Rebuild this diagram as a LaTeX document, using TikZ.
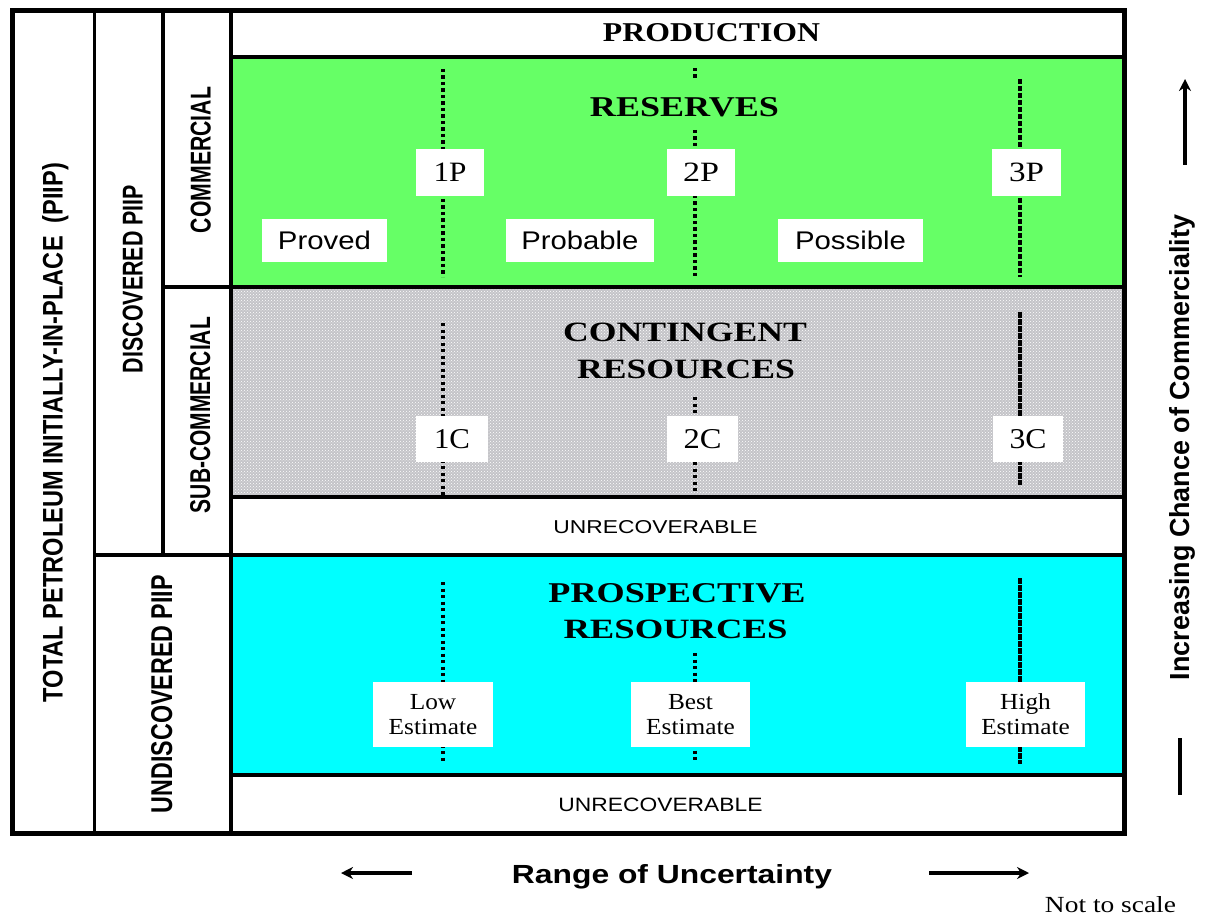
\documentclass[tikz,border=0pt]{standalone}
\usepackage{fontspec}
\setmainfont{Liberation Serif}
\setsansfont{Liberation Sans}
\usepackage{graphicx}
\usetikzlibrary{patterns,arrows.meta}
\definecolor{resgreen}{RGB}{102,255,102}
\definecolor{prospcyan}{RGB}{0,255,255}
\definecolor{contgray}{RGB}{196,196,200}
\newcommand\fitt[3]{\resizebox{#1pt}{#2pt}{#3}}
\begin{document}
\begin{tikzpicture}[x=1pt,y=-1pt,
  frame/.style={line width=5pt},
  sep/.style={line width=3.5pt},
  dotline/.style={line width=3.6pt, dash pattern=on 3.3pt off 3.2pt},
  dashline/.style={line width=3.6pt, dash pattern=on 5.5pt off 1.5pt},
  whitebox/.style={fill=white, inner sep=0pt},
  txt/.style={inner sep=0pt, anchor=base},
  vtxt/.style={inner sep=0pt, anchor=base, rotate=90, font=\sffamily\bfseries},
  arr/.style={line width=4pt, -{Stealth[length=12pt,width=12pt]}}
]
\useasboundingbox (0,0) rectangle (1207,917);
\fill[white] (0,0) rectangle (1207,917);

% coloured bands
\fill[resgreen] (231,57) rectangle (1124,287);
\fill[contgray] (231,287) rectangle (1124,497);
\fill[pattern=crosshatch dots, pattern color=white] (231,287) rectangle (1124,497);
\fill[prospcyan] (231,555) rectangle (1124,775);

% dotted lines
\draw[dotline] (443,69) -- (443,277);
\draw[dotline] (443,323) -- (443,495);
\draw[dotline] (443,582) -- (443,763);
\draw[dotline] (695,68) -- (695,78);
\draw[dotline] (695,130) -- (695,277);
\draw[dotline] (695,397) -- (695,492);
\draw[dotline] (695,653) -- (695,763);
\draw[dashline] (1020,79) -- (1020,277);
\draw[dashline] (1020,312) -- (1020,485);
\draw[dashline] (1020,578) -- (1020,764);

% grid lines
\draw[sep] (94.5,11) -- (94.5,833.5);
\draw[sep] (163,11) -- (163,555);
\draw[sep] (231,11) -- (231,833.5);
\draw[sep] (231,57) -- (1124,57);
\draw[sep] (163,287) -- (1124,287);
\draw[sep] (231,497) -- (1124,497);
\draw[sep] (94.5,555) -- (1124,555);
\draw[sep] (231,775) -- (1124,775);
\draw[frame] (12.5,11) rectangle (1124,833.5);

% band titles
\node[txt] (prod) at (711.5,41.5) {\fitt{217}{18}{\bfseries PRODUCTION}};
\node[txt] (res) at (684.5,116.5) {\fitt{189}{19}{\bfseries RESERVES}};
\node[txt] (cont1) at (685,341.5) {\fitt{244}{18.5}{\bfseries CONTINGENT}};
\node[txt] (cont2) at (686,378.5) {\fitt{218}{18.5}{\bfseries RESOURCES}};
\node[txt] (pros1) at (677,602.5) {\fitt{257}{19}{\bfseries PROSPECTIVE}};
\node[txt] (pros2) at (675.5,638.5) {\fitt{224}{18.5}{\bfseries RESOURCES}};
\node[txt] (unrec1) at (655.5,533.5) {\fitt{204}{13}{\sffamily UNRECOVERABLE}};
\node[txt] (unrec2) at (660.5,811.5) {\fitt{204}{13.5}{\sffamily UNRECOVERABLE}};

% label boxes
\node[whitebox, minimum width=68pt, minimum height=47pt] (p1) at (450,172.5) {\fitt{33}{18.5}{1P}};
\node[whitebox, minimum width=68pt, minimum height=47pt] (p2) at (701,172.5) {\fitt{36}{18.5}{2P}};
\node[whitebox, minimum width=69pt, minimum height=47pt] (p3) at (1026.5,172.5) {\fitt{35}{18.5}{3P}};
\node[whitebox, minimum width=125pt, minimum height=43pt] (proved) at (324.5,240.5) {\fitt{93}{18.5}{\sffamily Proved}};
\node[whitebox, minimum width=148pt, minimum height=43pt] (probable) at (580,240.5) {\fitt{117}{18.5}{\sffamily Probable}};
\node[whitebox, minimum width=145pt, minimum height=43pt] (possible) at (850.5,240.5) {\fitt{111}{18.5}{\sffamily Possible}};
\node[whitebox, minimum width=72pt, minimum height=46pt] (c1) at (452,439) {\fitt{36}{19}{1C}};
\node[whitebox, minimum width=71pt, minimum height=46pt] (c2) at (702.5,439) {\fitt{38}{19}{2C}};
\node[whitebox, minimum width=70pt, minimum height=46pt] (c3) at (1028,439) {\fitt{37}{19}{3C}};
\node[whitebox, minimum width=120pt, minimum height=65pt, align=center, font=\fontsize{23}{25}\selectfont] (low) at (433,714.5) {\scalebox{1.1}[1]{Low}\\\scalebox{1.1}[1]{Estimate}};
\node[whitebox, minimum width=119pt, minimum height=65pt, align=center, font=\fontsize{23}{25}\selectfont] (best) at (690.5,714.5) {\scalebox{1.1}[1]{Best}\\\scalebox{1.1}[1]{Estimate}};
\node[whitebox, minimum width=119pt, minimum height=65pt, align=center, font=\fontsize{23}{25}\selectfont] (high) at (1025.5,714.5) {\scalebox{1.1}[1]{High}\\\scalebox{1.1}[1]{Estimate}};

% vertical side labels
\node[vtxt] (total) at (62.5,432.5) {\fitt{539}{20.5}{TOTAL PETROLEUM INITIALLY-IN-PLACE\ \ (PIIP)}};
\node[vtxt] (disc) at (142.5,279) {\fitt{188}{20}{DISCOVERED PIIP}};
\node[vtxt] (comm) at (210.5,160) {\fitt{146}{20}{COMMERCIAL}};
\node[vtxt] (subcomm) at (210,415) {\fitt{196}{20}{SUB-COMMERCIAL}};
\node[vtxt] (undisc) at (172,694) {\fitt{238}{21}{UNDISCOVERED PIIP}};
\node[vtxt] (chance) at (1189,447.5) {\fitt{465}{20}{Increasing Chance of Commerciality}};

% bottom texts
\node[txt] (range) at (672,883) {\fitt{320}{19}{\sffamily\bfseries Range of Uncertainty}};
\node[txt] (nts) at (1110.5,912) {\fitt{131}{16}{Not to scale}};

% arrows
\coordinate (upS) at (1185,165);
\coordinate (upE) at (1185,79);
\draw[arr] (upS) -- (upE);
\coordinate (barT) at (1180,738);
\coordinate (barB) at (1180,795);
\draw[line width=4pt] (barT) -- (barB);
\coordinate (lS) at (412,873);
\coordinate (lE) at (341,873);
\draw[arr] (lS) -- (lE);
\coordinate (rS) at (929,873);
\coordinate (rE) at (1029,873);
\draw[arr] (rS) -- (rE);
\end{tikzpicture}
\end{document}
